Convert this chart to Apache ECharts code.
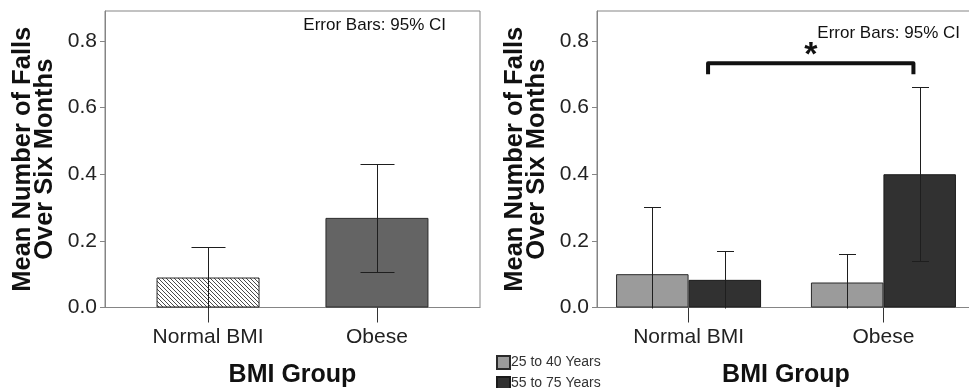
<!DOCTYPE html>
<html><head><meta charset="utf-8">
<script src="https://cdn.jsdelivr.net/npm/echarts@6/dist/echarts.min.js"></script>
<style>html,body{margin:0;padding:0;background:#fff}#c{width:969px;height:388px}</style>
</head><body><div id="c"></div>
<script>
// ---------- data ----------
const categories = ['Normal BMI', 'Obese'];
const yTicks = [0, 0.2, 0.4, 0.6, 0.8];
// left panel: all participants by BMI group
const overallMean = [0.090, 0.269];
const overallLow  = [-0.003, 0.107];
const overallHigh = [0.183, 0.432];
// right panel: by age group
const ageGroups = ['25 to 40 Years', '55 to 75 Years'];
const youngMean = [0.100, 0.075];
const youngLow  = [-0.103, -0.011];
const youngHigh = [0.303, 0.161];
const olderMean = [0.083, 0.400];
const olderLow  = [-0.004, 0.140];
const olderHigh = [0.170, 0.663];
// significance bracket: x start, x end (category units), y top, y foot
const bracket = [0.10, 1.154, 0.733, 0.700];
const significance = '*';
const errorNote = 'Error Bars: 95% CI';
const yTitle = 'Mean Number of Falls\nOver Six Months';
const xTitle = 'BMI Group';

// ---------- styling ----------
const FONT = '"Liberation Sans", Arial, Helvetica, sans-serif';
const AXIS_GRAY = '#858585';

function hatchCanvas() {
  const s = 4;
  const c = document.createElement('canvas'); c.width = s; c.height = s;
  const g = c.getContext('2d');
  g.fillStyle = '#ffffff'; g.fillRect(0, 0, s, s);
  g.strokeStyle = '#4a4a4a'; g.lineWidth = 1;
  const seg = (a, b, cc, d) => { g.beginPath(); g.moveTo(a, b); g.lineTo(cc, d); g.stroke(); };
  seg(-1, -1, s + 1, s + 1);
  seg(-1, s - 1, 1, s + 1);
  seg(s - 1, -1, s + 1, 1);
  return c;
}

function errRender(capW, offsetPx) {
  return function (params, api) {
    const x = api.value(0), lo = api.value(1), hi = api.value(2);
    const pHi = api.coord([x, hi]);
    const pLo = api.coord([x, Math.max(lo, 0)]);
    const cx = Math.round(pHi[0] + offsetPx) + 0.5;
    const yH = Math.round(pHi[1]) + 0.5, yL = Math.round(pLo[1]) + 0.5;
    const st = { stroke: '#1e1e1e', lineWidth: 1 };
    const ch = [
      { type: 'line', shape: { x1: cx, y1: yH, x2: cx, y2: yL }, style: st },
      { type: 'line', shape: { x1: cx - capW / 2, y1: yH, x2: cx + capW / 2, y2: yH }, style: st }
    ];
    if (lo >= 0) ch.push({ type: 'line', shape: { x1: cx - capW / 2, y1: yL, x2: cx + capW / 2, y2: yL }, style: st });
    return { type: 'group', children: ch };
  };
}

function xAxisCfg(gridIndex, min, max) {
  return {
    type: 'value', gridIndex, min, max,
    axisLine: { show: true, onZero: false, lineStyle: { color: AXIS_GRAY, width: 1 } },
    axisTick: { show: true, length: 15, inside: false, customValues: [0, 1], lineStyle: { color: '#333' } },
    axisLabel: { customValues: [0, 1], formatter: v => categories[Math.round(v)], fontSize: 21, color: '#222', margin: 19, fontFamily: FONT },
    splitLine: { show: false },
    name: xTitle, nameLocation: 'middle', nameGap: 55,
    nameTextStyle: { fontSize: 25, fontWeight: 'bold', color: '#111', fontFamily: FONT }
  };
}
function yAxisCfg(gridIndex) {
  return {
    type: 'value', gridIndex, min: 0, max: 0.89,
    axisLine: { show: true, onZero: false, lineStyle: { color: AXIS_GRAY, width: 1 } },
    axisTick: { show: true, length: 5, customValues: yTicks, lineStyle: { color: AXIS_GRAY } },
    axisLabel: { customValues: yTicks, formatter: v => v.toFixed(1), fontSize: 21, color: '#222', margin: 8, fontFamily: FONT },
    splitLine: { show: false },
    name: yTitle, nameLocation: 'middle', nameRotate: 90, nameGap: 49,
    nameTextStyle: { fontSize: 25.5, fontWeight: 'bold', lineHeight: 22, color: '#111', fontFamily: FONT }
  };
}

const chart = echarts.init(document.getElementById('c'), null, { renderer: 'canvas' });
const hatch = { image: hatchCanvas(), repeat: 'repeat' };

const option = {
  animation: false,
  backgroundColor: '#ffffff',
  textStyle: { fontFamily: FONT },
  grid: [
    { left: 105, top: 11, width: 375, height: 296.5, show: true, borderColor: AXIS_GRAY, borderWidth: 1, backgroundColor: 'transparent', containLabel: false, outerBoundsMode: 'none' },
    { left: 597, top: 11, width: 378, height: 296.5, show: true, borderColor: AXIS_GRAY, borderWidth: 1, backgroundColor: 'transparent', containLabel: false, outerBoundsMode: 'none' }
  ],
  xAxis: [xAxisCfg(0, -0.61, 1.61), xAxisCfg(1, -0.47, 1.47)],
  yAxis: [yAxisCfg(0), yAxisCfg(1)],
  legend: {
    data: ageGroups, orient: 'vertical', left: 496, top: 355, height: 60, padding: 0,
    itemWidth: 13, itemHeight: 13, itemGap: 6, icon: 'rect', selectedMode: false,
    textStyle: { fontSize: 14, lineHeight: 14, color: '#333', fontFamily: FONT, padding: [0, 0, 0, -4] }
  },
  graphic: [
    { type: 'text', x: 446, y: 25, style: { text: errorNote, align: 'right', verticalAlign: 'middle', fontSize: 17, fill: '#111', fontFamily: FONT } },
    { type: 'text', x: 960, y: 33, style: { text: errorNote, align: 'right', verticalAlign: 'middle', fontSize: 17, fill: '#111', fontFamily: FONT } }
  ],
  series: [
    {
      type: 'bar', name: 'All', xAxisIndex: 0, yAxisIndex: 0, barWidth: 103,
      data: categories.map((c, i) => ({
        value: [i, overallMean[i]],
        itemStyle: i === 0 ? { color: hatch, borderColor: '#2a2a2a', borderWidth: 1 }
                           : { color: '#646464', borderColor: '#2a2a2a', borderWidth: 1 }
      }))
    },
    {
      type: 'custom', xAxisIndex: 0, yAxisIndex: 0, z: 5, clip: false,
      data: categories.map((c, i) => [i, overallLow[i], overallHigh[i]]),
      encode: { x: 0, y: [1, 2] }, renderItem: errRender(34, 0)
    },
    {
      type: 'bar', name: ageGroups[0], xAxisIndex: 1, yAxisIndex: 1, barWidth: 72.5, barGap: '0%',
      itemStyle: { color: '#9b9b9b', borderColor: '#2a2a2a', borderWidth: 1 },
      data: categories.map((c, i) => [i, youngMean[i]])
    },
    {
      type: 'bar', name: ageGroups[1], xAxisIndex: 1, yAxisIndex: 1, barWidth: 72.5, barGap: '0%',
      itemStyle: { color: '#313131', borderColor: '#1a1a1a', borderWidth: 1 },
      data: categories.map((c, i) => [i, olderMean[i]])
    },
    {
      type: 'custom', xAxisIndex: 1, yAxisIndex: 1, z: 5, clip: false,
      data: categories.map((c, i) => [i, youngLow[i], youngHigh[i]]),
      encode: { x: 0, y: [1, 2] }, renderItem: errRender(17, -36.25)
    },
    {
      type: 'custom', xAxisIndex: 1, yAxisIndex: 1, z: 5, clip: false,
      data: categories.map((c, i) => [i, olderLow[i], olderHigh[i]]),
      encode: { x: 0, y: [1, 2] }, renderItem: errRender(17, 36.25)
    },
    {
      type: 'custom', xAxisIndex: 1, yAxisIndex: 1, z: 6, clip: false,
      data: [bracket],
      encode: { x: [0, 1], y: [2, 3] },
      renderItem: function (params, api) {
        const x1 = api.value(0), x2 = api.value(1), yt = api.value(2), yb = api.value(3);
        const a = api.coord([x1, yb]), b = api.coord([x1, yt]), c = api.coord([x2, yt]), d = api.coord([x2, yb]);
        const m = api.coord([(x1 + x2) / 2, yt]);
        return {
          type: 'group', children: [
            { type: 'polyline', shape: { points: [a, b, c, d] }, style: { stroke: '#111', lineWidth: 4, fill: null, lineJoin: 'round' } },
            { type: 'text', x: m[0], y: m[1] - 8, style: { text: significance, fontSize: 34, fontWeight: 'bold', fill: '#111', align: 'center', verticalAlign: 'middle', fontFamily: FONT } }
          ]
        };
      }
    }
  ]
};
chart.setOption(option);
</script>
</body></html>
